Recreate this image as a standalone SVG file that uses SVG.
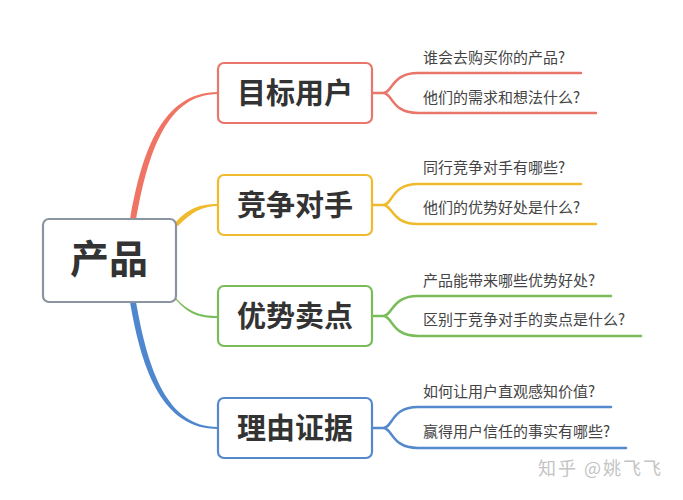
<svg xmlns="http://www.w3.org/2000/svg" width="683" height="500" viewBox="0 0 683 500">
<style>
.box{fill:#fff;stroke-width:2.2}
.main{font-family:"Noto Sans CJK SC",sans-serif;font-weight:bold;fill:#333;text-anchor:middle}
.sub{font-family:"Noto Sans CJK SC",sans-serif;font-size:15px;fill:#444}
.ln{fill:none;stroke-width:2.5;stroke-linecap:round}
.red{stroke:#e8766a}.yel{stroke:#efba2c}.grn{stroke:#79bd5a}.blu{stroke:#5489cc}
</style>
<rect width="683" height="500" fill="#fff"/>
<g id="connectors">
<path d="M130,220 C142,150 163,92 218,92 L218,94 C167,94 148,152 136,220 Z" fill="#f07464"/>
<path d="M174,224 C188,208 200,204 218,204 L218,206 C202,206 192,212 178,226 Z" fill="#efba2c"/>
<path d="M174,296 C188,312 200,316 218,316 L218,318 C202,318 190,316 176,300 Z" fill="#79bd5a"/>
<path d="M130,302 C142,372 163,429 218,429 L218,427 C167,427 148,370 136,302 Z" fill="#4f87cf"/>
<path class="ln red" d="M372,93 H383 C393,93 391,73 418,73 H581 M383,93 C393,93 391,113 418,113 H596"/>
<path class="ln yel" d="M372,205 H383 C393,205 391,184 418,184 H581 M383,205 C393,205 391,224 418,224 H596"/>
<path class="ln grn" d="M372,316 H383 C393,316 391,296 418,296 H611 M383,316 C393,316 391,336 418,336 H641"/>
<path class="ln blu" d="M372,428 H383 C393,428 391,407 418,407 H611 M383,428 C393,428 391,448 418,448 H626"/>
</g>
<g id="center">
<rect class="box" x="43" y="219" width="133" height="83" rx="6" stroke="#8b94a1"/>
<text class="main" x="109" y="273" font-size="39">产品</text>
</g>
<g id="n1">
<rect class="box red" x="218" y="63" width="154" height="60" rx="6"/>
<text class="main" x="295" y="104" font-size="29">目标用户</text>
<text class="sub" x="423" y="63">谁会去购买你的产品?</text>
<text class="sub" x="423" y="103">他们的需求和想法什么?</text>
</g>
<g id="n2">
<rect class="box yel" x="218" y="175" width="154" height="60" rx="6"/>
<text class="main" x="295" y="216" font-size="29">竞争对手</text>
<text class="sub" x="423" y="173">同行竞争对手有哪些?</text>
<text class="sub" x="423" y="213">他们的优势好处是什么?</text>
</g>
<g id="n3">
<rect class="box grn" x="218" y="286" width="154" height="60" rx="6"/>
<text class="main" x="295" y="327" font-size="29">优势卖点</text>
<text class="sub" x="423" y="286">产品能带来哪些优势好处?</text>
<text class="sub" x="423" y="325">区别于竞争对手的卖点是什么?</text>
</g>
<g id="n4">
<rect class="box blu" x="218" y="398" width="154" height="60" rx="6"/>
<text class="main" x="295" y="439" font-size="29">理由证据</text>
<text class="sub" x="423" y="397">如何让用户直观感知价值?</text>
<text class="sub" x="423" y="437">赢得用户信任的事实有哪些?</text>
</g>
<text x="538" y="475" font-family="Noto Sans CJK SC,sans-serif" font-size="18" letter-spacing="2" fill="#c4c4c4">知乎 @姚飞飞</text>
</svg>
